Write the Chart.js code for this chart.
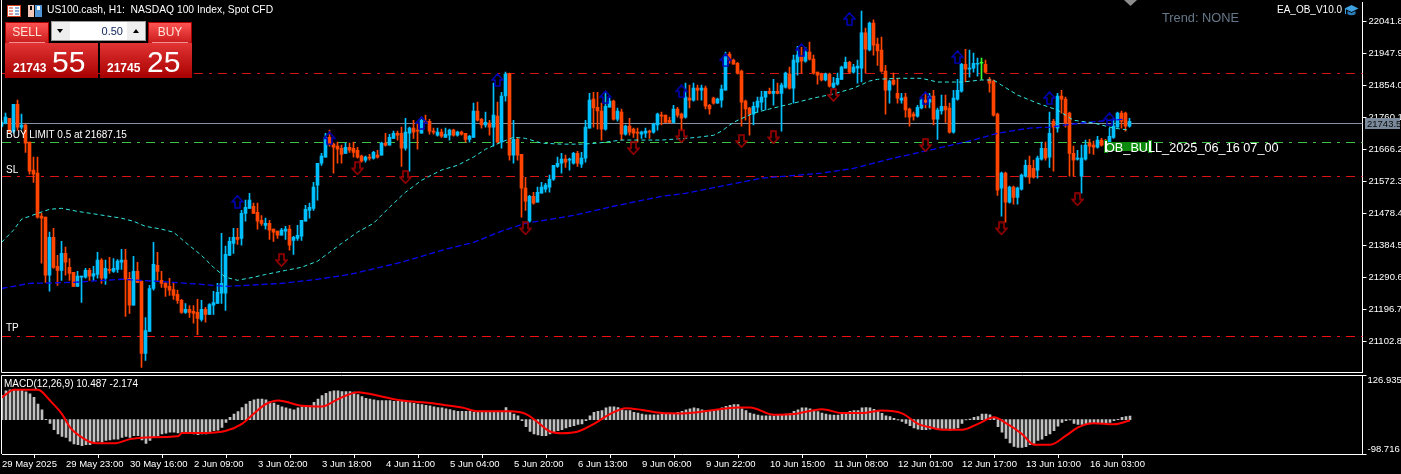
<!DOCTYPE html>
<html>
<head>
<meta charset="utf-8">
<title>US100.cash H1</title>
<script src="https://cdn.jsdelivr.net/npm/chart.js@4/dist/chart.umd.min.js"></script>
<style>
html, body { margin: 0; padding: 0; background: #000; width: 1401px; height: 474px; overflow: hidden; }
canvas { position: absolute; left: 0; }
.t { position: absolute; white-space: pre; color: #fff; font: 10px "Liberation Sans", sans-serif; line-height: 12px; }
.box { position: absolute; box-sizing: border-box; font-family: "Liberation Sans", sans-serif; }
.top { background: linear-gradient(#ff5252, #c81c1c); border: 1px solid #a80000; color: #ffe4d8; font-size: 12px; text-align: center; }
.low { background: linear-gradient(#e23434, #a80000); }
</style>
</head>
<body>
<canvas id="main" width="1401" height="373" style="top:0"></canvas>
<canvas id="macd" width="1401" height="99" style="top:375px"></canvas>

<svg class="box" style="left:7px;top:5px" width="14" height="12"><rect x=".5" y=".5" width="13" height="11" fill="#fff" stroke="#d04020"/><path d="M2 3h4M2 6h4M2 9h4" stroke="#d03020"/><path d="M8 3h4M8 6h4M8 9h4" stroke="#2060c0"/></svg>
<svg class="box" style="left:28px;top:5px" width="14" height="12"><rect x="0" y="0" width="6" height="12" fill="#f4c8b8"/><rect x="7" y="0" width="7" height="12" fill="#4f94d4"/><rect x="9" y="1" width="3" height="4" fill="#fff"/><rect x="2" y="1" width="2" height="4" fill="#000"/></svg>
<div class="t" style="left:47px;top:4px;font-size:10.3px">US100.cash, H1:  NASDAQ 100 Index, Spot CFD</div>

<div class="box top" style="left:5px;top:22px;width:44px;height:22px;line-height:19px">SELL</div>
<div class="box" style="left:9px;top:42px;width:36px;height:1px;background:#f09090"></div>
<div class="box low" style="left:5px;top:43px;width:93px;height:35px"></div>
<div class="t" style="left:13px;top:61px;font-size:12px;font-weight:bold;line-height:14px">21743</div>
<div class="t" style="left:52px;top:46px;font-size:30px;line-height:32px">55</div>
<div class="box top" style="left:148px;top:22px;width:44px;height:22px;line-height:19px">BUY</div>
<div class="box" style="left:152px;top:42px;width:36px;height:1px;background:#f09090"></div>
<div class="box low" style="left:100px;top:43px;width:92px;height:35px"></div>
<div class="t" style="left:107px;top:61px;font-size:12px;font-weight:bold;line-height:14px">21745</div>
<div class="t" style="left:147px;top:46px;font-size:30px;line-height:32px">25</div>
<div class="box" style="left:51px;top:21px;width:95px;height:20px;background:#fff;border:1px solid #999"></div>
<div class="box" style="left:52px;top:22px;width:18px;height:18px;background:#eee"></div>
<div class="box" style="left:127px;top:22px;width:18px;height:18px;background:#eee"></div>
<div class="t" style="left:57px;top:29px;width:0;height:0;border-left:3px solid transparent;border-right:3px solid transparent;border-top:4px solid #000"></div>
<div class="t" style="left:133px;top:29px;width:0;height:0;border-left:3px solid transparent;border-right:3px solid transparent;border-bottom:4px solid #000"></div>
<div class="t" style="left:85px;top:25px;width:38px;text-align:right;color:#10245c;font-size:11px">0.50</div>

<div class="t" style="left:6px;top:129px">BUY LIMIT 0.5 at 21687.15</div>
<div class="t" style="left:6px;top:164px">SL</div>
<div class="t" style="left:6px;top:322px">TP</div>
<div class="t" style="left:1162px;top:11px;font-size:12.8px;line-height:14px;color:#66788a">Trend: NONE</div>
<div class="t" style="left:1277px;top:4px;font-size:10px">EA_OB_V10.0</div>
<svg class="box" style="left:1344px;top:4px" width="15" height="13"><path d="M7.5 1L14.5 4.5 7.5 8 .5 4.5Z" fill="#3fa0e0"/><path d="M3.5 7v3.2Q7.5 12.5 11.500 10.200V7L7.500 9Z" fill="#2a80c0"/><path d="M1.500 5v5" stroke="#3fa0e0"/></svg>
<div class="box" style="left:1124px;top:0;width:13px;height:6px;background:#8c8c8c;clip-path:polygon(0 0,100% 0,50% 100%)"></div>

<div class="box" style="left:1105px;top:142px;width:45px;height:9px;background:#0b8a0b"></div>
<div class="box" style="left:1104px;top:140px;width:4px;height:13px;background:#fff;border:1px solid #0b8a0b"></div>
<div class="box" style="left:1148px;top:140px;width:4px;height:13px;background:#fff;border:1px solid #0b8a0b"></div>
<div class="t" style="left:1105px;top:141px;font-size:12.7px;line-height:14px">OB_BULL_2025_06_16 07_00</div>

<div class="t" style="left:4px;top:378px">MACD(12,26,9) 10.487 -2.174</div>

<script>
const opens = [21734,21743,21757,21719,21798,21731,21737,21687,21605,21596,21470,21467,21297,21408,21323,21311,21361,21320,21305,21264,21291,21291,21311,21294,21299,21341,21288,21314,21308,21314,21335,21341,21288,21209,21308,21279,21068,21132,21258,21326,21282,21273,21264,21255,21241,21223,21188,21197,21191,21188,21167,21197,21182,21209,21214,21244,21244,21355,21390,21408,21405,21478,21493,21499,21481,21458,21443,21449,21432,21426,21414,21426,21432,21399,21405,21411,21455,21487,21493,21561,21625,21643,21701,21681,21675,21669,21654,21672,21669,21663,21646,21634,21643,21640,21649,21649,21684,21678,21698,21713,21713,21669,21713,21728,21722,21713,21748,21748,21719,21707,21716,21701,21707,21722,21707,21716,21713,21695,21701,21778,21754,21737,21743,21731,21763,21687,21822,21886,21649,21695,21651,21552,21455,21528,21511,21537,21549,21555,21578,21616,21625,21637,21634,21625,21654,21622,21640,21728,21813,21789,21778,21725,21789,21807,21754,21775,21710,21734,21725,21716,21710,21713,21719,21716,21737,21766,21766,21751,21745,21784,21769,21760,21816,21810,21845,21839,21845,21795,21816,21801,21810,21839,21945,21927,21918,21895,21807,21787,21769,21789,21804,21819,21836,21830,21836,21830,21848,21886,21845,21921,21939,21924,21951,21930,21892,21886,21869,21886,21848,21857,21871,21904,21921,21892,21904,21904,22007,21957,22036,21974,21957,21895,21839,21869,21830,21810,21819,21784,21769,21763,21787,21810,21804,21822,21754,21778,21792,21787,21716,21813,21836,21915,21901,21904,21915,21918,21915,21871,21866,21769,21552,21596,21511,21555,21525,21549,21587,21619,21610,21605,21637,21669,21643,21748,21728,21822,21813,21772,21654,21637,21587,21637,21684,21678,21672,21693,21690,21669,21701,21731,21772,21772,21734];
const highs = [21751,21772,21757,21798,21810,21769,21740,21687,21643,21643,21478,21467,21423,21434,21355,21396,21379,21346,21305,21308,21294,21317,21317,21323,21364,21346,21341,21349,21346,21343,21373,21373,21305,21352,21335,21282,21173,21267,21393,21364,21308,21276,21288,21273,21253,21226,21214,21208,21208,21226,21223,21203,21214,21250,21273,21420,21382,21408,21434,21434,21487,21517,21537,21508,21508,21472,21464,21458,21432,21426,21434,21440,21443,21411,21443,21458,21502,21508,21569,21625,21654,21713,21722,21684,21687,21678,21684,21684,21687,21672,21649,21646,21651,21660,21663,21687,21713,21710,21719,21719,21731,21757,21731,21751,21745,21760,21766,21754,21728,21728,21725,21728,21725,21725,21719,21719,21713,21707,21801,21804,21757,21775,21751,21860,21804,21833,21892,21889,21751,21701,21651,21584,21531,21540,21555,21569,21566,21590,21619,21643,21654,21649,21640,21657,21660,21657,21751,21830,21833,21833,21801,21833,21816,21810,21787,21784,21737,21757,21728,21728,21719,21728,21722,21743,21772,21775,21766,21760,21795,21789,21772,21860,21854,21860,21854,21854,21851,21798,21819,21816,21854,21951,21951,21930,21921,21898,21810,21789,21804,21819,21836,21836,21845,21871,21860,21860,21892,21907,21942,21968,21965,21965,21980,21942,21892,21889,21889,21889,21877,21889,21910,21936,21924,21915,21927,22071,22021,22039,22045,21992,21995,21912,21869,21889,21874,21830,21830,21787,21775,21795,21813,21830,21830,21839,21787,21825,21825,21801,21839,21871,21918,21959,21957,21948,21933,21933,21927,21877,21869,21772,21599,21599,21558,21558,21555,21593,21634,21646,21634,21646,21687,21687,21775,21754,21830,21839,21819,21775,21675,21663,21678,21693,21695,21690,21704,21698,21695,21728,21757,21775,21778,21775,21757];
const lows = [21731,21740,21716,21713,21722,21725,21657,21593,21569,21464,21332,21276,21250,21317,21267,21282,21297,21282,21264,21264,21217,21288,21282,21282,21288,21273,21270,21302,21305,21305,21314,21176,21185,21209,21276,21027,21047,21132,21253,21282,21261,21235,21238,21226,21214,21185,21185,21173,21156,21123,21162,21159,21182,21182,21214,21214,21194,21355,21361,21387,21385,21455,21493,21478,21432,21443,21432,21402,21396,21405,21414,21402,21370,21358,21399,21399,21455,21464,21487,21517,21619,21643,21675,21596,21625,21625,21654,21657,21643,21640,21628,21628,21634,21637,21640,21649,21675,21678,21698,21693,21616,21663,21602,21698,21666,21713,21743,21710,21710,21704,21701,21701,21693,21704,21704,21707,21687,21687,21701,21748,21728,21731,21707,21675,21684,21669,21807,21634,21625,21634,21467,21487,21452,21505,21511,21537,21540,21540,21575,21613,21596,21613,21605,21622,21616,21613,21628,21728,21731,21725,21693,21722,21789,21751,21748,21693,21707,21707,21701,21687,21698,21701,21698,21713,21722,21737,21745,21743,21743,21760,21722,21757,21787,21807,21810,21810,21784,21769,21798,21801,21789,21839,21918,21915,21886,21734,21751,21707,21737,21775,21781,21781,21828,21795,21828,21719,21845,21842,21801,21883,21889,21921,21927,21886,21857,21866,21866,21848,21845,21854,21871,21904,21889,21889,21860,21863,21889,21954,21942,21912,21892,21769,21801,21854,21801,21801,21760,21734,21751,21760,21784,21787,21787,21737,21695,21769,21745,21713,21713,21810,21833,21863,21877,21892,21880,21871,21889,21833,21763,21531,21470,21452,21508,21505,21505,21546,21584,21566,21581,21581,21634,21634,21613,21602,21716,21772,21731,21587,21587,21634,21537,21634,21654,21651,21669,21675,21663,21666,21698,21731,21728,21719,21731];
const closes = [21745,21760,21716,21798,21731,21737,21684,21602,21593,21467,21464,21297,21408,21320,21311,21361,21335,21302,21264,21294,21294,21311,21294,21302,21341,21288,21317,21311,21317,21338,21341,21285,21209,21308,21276,21068,21135,21258,21329,21308,21273,21261,21253,21238,21223,21188,21197,21188,21185,21170,21197,21182,21211,21217,21247,21273,21358,21396,21408,21402,21478,21496,21517,21478,21455,21449,21449,21429,21423,21414,21429,21432,21385,21408,21414,21458,21490,21496,21555,21625,21646,21701,21681,21672,21666,21651,21672,21663,21657,21643,21631,21643,21640,21657,21643,21684,21678,21701,21713,21707,21669,21716,21728,21716,21719,21751,21745,21719,21716,21716,21704,21710,21722,21707,21716,21710,21695,21704,21778,21751,21737,21745,21731,21766,21687,21822,21886,21649,21695,21649,21552,21514,21528,21508,21540,21555,21561,21578,21619,21625,21637,21628,21637,21654,21625,21640,21731,21810,21787,21778,21725,21792,21807,21754,21778,21710,21734,21716,21713,21713,21716,21719,21716,21740,21769,21763,21745,21745,21784,21766,21757,21819,21810,21845,21839,21845,21792,21784,21801,21813,21842,21942,21927,21915,21889,21804,21784,21769,21792,21807,21819,21836,21830,21836,21830,21854,21889,21845,21927,21942,21924,21951,21930,21889,21883,21869,21886,21851,21860,21874,21907,21921,21892,21907,21910,22007,21959,22036,21971,21954,21895,21839,21866,21857,21816,21816,21781,21760,21763,21789,21810,21804,21822,21754,21781,21792,21781,21716,21816,21839,21915,21901,21904,21918,21918,21918,21892,21860,21766,21546,21596,21511,21555,21525,21552,21590,21619,21584,21584,21640,21669,21640,21713,21731,21822,21813,21743,21654,21634,21640,21640,21678,21675,21672,21693,21678,21678,21704,21734,21772,21748,21734,21748];

const cyanBars = [0,3,5,9,12,15,19,24,30,33,36,40,43,46,50,53,56,59,63,66,71,75,79,82,85,89,93,97,101,105,110,114,118,121,125,128,131,135,140,145,149,155,160,165,171,174,178,180,183,188,192,198,203,208,213,217,219,224,230,234,240,245,248,250,254,259,264,268,273,278,282];
const cyanVals = [21393,21429,21461,21478,21490,21493,21484,21475,21464,21455,21440,21432,21423,21393,21355,21320,21291,21282,21291,21299,21311,21320,21338,21364,21390,21423,21449,21496,21540,21575,21605,21619,21643,21666,21687,21701,21698,21684,21681,21681,21684,21693,21693,21693,21698,21701,21707,21719,21745,21772,21784,21801,21816,21828,21845,21866,21871,21874,21874,21863,21863,21869,21869,21854,21825,21801,21781,21751,21743,21728,21722];
const blueBars = [0,7,18,30,43,50,56,61,70,79,87,100,111,118,125,131,143,153,165,171,180,190,199,205,213,223,233,243,249,257,262,270,277,281];
const blueVals = [21258,21273,21276,21285,21276,21270,21264,21267,21273,21285,21299,21335,21373,21393,21426,21449,21472,21499,21528,21537,21558,21581,21590,21596,21610,21640,21666,21693,21713,21728,21731,21743,21751,21754];

const upBars = [59,82,105,124,151,170,181,200,212,231,239,262,277];
const upVals = [21512,21698,21743,21869,21819,21836,21927,21957,22048,21816,21936,21816,21754];
const downBars = [70,89,101,131,158,170,185,193,208,231,250,269];
const downVals = [21341,21610,21584,21434,21669,21704,21690,21701,21825,21678,21434,21519];

const levelPrices = [21889, 21743.5, 21687.15, 21587, 21120];
const levelColors = ["#d01414", "#8490a4", "#40c040", "#d81414", "#f01010"];

const priceTicks = [22041.8,21947.9,21854.0,21760.1,21666.2,21572.3,21478.4,21384.5,21290.6,21196.7,21102.8];
const bidLabel = "21743.5";

const macdHist = [69,83,86,86,86,86,80,74,64,45,28,1,-11,-29,-41,-48,-51,-62,-70,-72,-75,-72,-72,-68,-62,-65,-60,-58,-56,-56,-51,-48,-51,-46,-46,-58,-68,-60,-51,-46,-41,-39,-36,-36,-38,-39,-38,-38,-41,-43,-41,-41,-36,-32,-30,-22,-8,7,16,23,35,45,53,57,59,59,57,52,48,42,37,34,31,28,34,37,40,40,50,59,69,76,81,83,83,81,81,81,79,72,66,61,59,57,55,55,55,55,53,53,53,51,49,47,45,43,41,40,37,35,34,31,29,26,24,24,24,24,21,21,21,21,21,24,21,21,35,24,16,11,-3,-20,-34,-41,-44,-46,-46,-41,-36,-32,-29,-24,-20,-17,-14,-12,-3,11,21,24,26,34,37,37,35,28,26,26,21,19,16,14,14,14,14,16,16,16,18,21,24,28,31,34,32,28,26,26,26,28,34,38,41,43,43,31,26,19,16,13,11,11,11,11,13,15,16,18,24,28,34,34,31,26,23,19,16,14,13,13,16,21,24,26,26,34,35,34,30,26,18,11,9,4,-1,-5,-11,-17,-24,-27,-29,-29,-27,-24,-27,-25,-25,-30,-27,-24,-11,-1,2,7,9,16,16,14,7,-20,-36,-54,-67,-77,-80,-80,-78,-72,-68,-60,-56,-46,-41,-32,-19,-8,-3,-1,-11,-14,-14,-12,-11,-10,-10,-10,-10,-8,-3,1,7,9,10.487];
const signalBars = [0,3,9,12,15,17,20,23,28,32,36,44,45,51,56,60,64,66,69,75,80,84,89,91,100,107,112,115,119,127,131,134,137,140,144,148,152,156,160,165,170,177,184,187,193,198,205,210,215,220,225,229,232,235,240,244,248,251,255,258,262,266,269,273,278,282];
const signalVals = [64,86,86,55,16,-22,-51,-67,-68,-56,-51,-48,-38,-38,-32,-12,28,45,55,40,38,59,79,76,55,48,40,35,24,24,16,-8,-34,-39,-34,-12,16,33,28,19,18,26,35,35,14,16,30,19,19,26,18,-12,-22,-29,-29,-12,7,-10,-41,-72,-72,-46,-22,-10,-13,-2.174];
const macdTicks = [126.935, -98.716];

const timeBars = [0,16,32,48,64,80,96,112,128,144,160,176,192,208,224,240,256,272];
const timeLabels = ["29 May 2025","29 May 23:00","30 May 16:00","2 Jun 09:00","3 Jun 02:00","3 Jun 18:00","4 Jun 11:00","5 Jun 04:00","5 Jun 20:00","6 Jun 13:00","9 Jun 06:00","9 Jun 22:00","10 Jun 15:00","11 Jun 08:00","12 Jun 01:00","12 Jun 17:00","13 Jun 10:00","16 Jun 03:00"];

const UP = "#00bfff", DOWN = "#ff4500", DOJI = "#32ff32";
const AXIS_FONT = { family: "Liberation Sans", size: 9.5 };

const barColors = opens.map((o, i) => closes[i] > o ? UP : closes[i] < o ? DOWN : DOJI);
const pairs = (xs, ys) => xs.map((x, i) => ({ x: x, y: ys[i] }));

function arrowImage(color, up) {
    const c = document.createElement("canvas");
    c.width = 13; c.height = 14;
    const g = c.getContext("2d");
    g.strokeStyle = color;
    g.lineWidth = 1.6;
    g.translate(0, up ? 0 : 14);
    g.scale(1, up ? 1 : -1);
    g.beginPath();
    g.moveTo(6.5, 1); g.lineTo(12, 7); g.lineTo(9, 7); g.lineTo(9, 13);
    g.lineTo(4, 13); g.lineTo(4, 7); g.lineTo(1, 7);
    g.closePath();
    g.stroke();
    return c;
}

// horizontal order levels, behind the candles, plus the frame
const levels = {
    id: "levels",
    beforeDatasetsDraw(chart) {
        const ctx = chart.ctx, a = chart.chartArea, y = chart.scales.y;
        levelPrices.forEach((p, i) => {
            const py = Math.round(y.getPixelForValue(p)) + 0.5;
            ctx.save();
            ctx.strokeStyle = levelColors[i];
            ctx.lineWidth = 1;
            ctx.setLineDash(i === 1 ? [] : [9, 6, 3, 6]);
            ctx.beginPath();
            ctx.moveTo(2, py);
            ctx.lineTo(a.right, py);
            ctx.stroke();
            ctx.restore();
        });
    },
    afterDraw(chart) {
        const ctx = chart.ctx, a = chart.chartArea, y = chart.scales.y;
        ctx.save();
        ctx.strokeStyle = "#fff";
        ctx.beginPath();
        ctx.moveTo(1.5, 0); ctx.lineTo(1.5, a.bottom); ctx.lineTo(a.right, a.bottom);
        ctx.stroke();
        const py = Math.round(y.getPixelForValue(levelPrices[1]));
        ctx.fillStyle = "#7b8a9a";
        ctx.fillRect(1365, py - 5, 35, 11);
        ctx.fillStyle = "#0a0a0a";
        ctx.font = "9.5px 'Liberation Sans'";
        ctx.textBaseline = "middle";
        ctx.fillText(bidLabel, 1367, py + 1);
        ctx.restore();
    }
};

const macdFrame = {
    id: "macdFrame",
    afterDraw(chart) {
        const ctx = chart.ctx, a = chart.chartArea, y = chart.scales.y;
        ctx.save();
        ctx.strokeStyle = "#fff";
        ctx.beginPath();
        ctx.moveTo(a.right, a.top); ctx.lineTo(1.5, a.top); ctx.lineTo(1.5, a.bottom);
        ctx.stroke();
        ctx.fillStyle = "#fff";
        ctx.font = "9.5px 'Liberation Sans'";
        ctx.textBaseline = "middle";
        ctx.fillText(macdTicks[0].toFixed(3), a.right + 5, y.getPixelForValue(macdTicks[0]) + 5);
        ctx.fillText(macdTicks[1].toFixed(3), a.right + 5, y.getPixelForValue(macdTicks[1]) - 5);
        ctx.restore();
    }
};

function noScalePadding(scale) {
    scale.paddingTop = 0;
    scale.paddingBottom = 0;
    scale.paddingLeft = 0;
    scale.paddingRight = 0;
}

new Chart(document.getElementById("main"), {
    type: "bar",
    data: {
        datasets: [
            {
                type: "line", order: 0, showLine: false, pointRadius: 7,
                pointStyle: arrowImage("#0000b4", true),
                data: pairs(upBars, upVals)
            },
            {
                type: "line", order: 0, showLine: false, pointRadius: 7,
                pointStyle: arrowImage("#a00000", false),
                data: pairs(downBars, downVals)
            },
            {
                type: "line", order: 1, borderColor: "#30e8e0", borderWidth: 1,
                borderDash: [4, 3], pointRadius: 0,
                data: pairs(cyanBars, cyanVals)
            },
            {
                type: "line", order: 1, borderColor: "#0808f0", borderWidth: 1.3,
                borderDash: [6, 3], pointRadius: 0,
                data: pairs(blueBars, blueVals)
            },
            {
                order: 2, barThickness: 3, minBarLength: 1, grouped: false,
                backgroundColor: barColors,
                data: opens.map((o, i) => ({ x: i, y: [o, closes[i]] }))
            },
            {
                order: 3, barThickness: 1, grouped: false,
                backgroundColor: barColors,
                data: lows.map((l, i) => ({ x: i, y: [l, highs[i]] }))
            }
        ]
    },
    options: {
        responsive: false,
        animation: false,
        events: [],
        devicePixelRatio: 1,
        layout: { autoPadding: false, padding: { left: 1.5, top: 2, bottom: 0.5, right: 0 } },
        plugins: { legend: { display: false }, tooltip: { enabled: false } },
        scales: {
            x: { type: "linear", min: 0, max: 340.25, offset: false, display: false, grid: { display: false } },
            y: {
                position: "right",
                min: 21011.8,
                max: 22097.55,
                afterBuildTicks: (s) => { s.ticks = priceTicks.map((v) => ({ value: v })); },
                afterFit: (s) => { s.width = 38.5; noScalePadding(s); },
                grid: { drawOnChartArea: false, color: "#fff", tickLength: 4, tickColor: "#fff" },
                border: { color: "#fff" },
                ticks: {
                    color: "#fff", font: AXIS_FONT, padding: 2, autoSkip: false,
                    callback: (v) => v.toFixed(1)
                }
            }
        }
    },
    plugins: [levels]
});

new Chart(document.getElementById("macd"), {
    type: "bar",
    data: {
        datasets: [
            {
                type: "line", order: 0, borderColor: "#ff0000", borderWidth: 2,
                cubicInterpolationMode: "monotone", pointRadius: 0,
                data: pairs(signalBars, signalVals)
            },
            {
                order: 1, barThickness: 2, backgroundColor: "#c0c0c0",
                data: macdHist.map((v, i) => ({ x: i, y: v }))
            }
        ]
    },
    options: {
        responsive: false,
        animation: false,
        events: [],
        devicePixelRatio: 1,
        layout: { autoPadding: false, padding: { left: 2, top: 0.5, bottom: 0, right: 0 } },
        plugins: { legend: { display: false }, tooltip: { enabled: false } },
        scales: {
            x: {
                type: "linear", min: 0, max: 340.125, offset: false,
                afterBuildTicks: (s) => { s.ticks = timeBars.map((v) => ({ value: v })); },
                afterFit: (s) => { s.height = 20; noScalePadding(s); },
                grid: { drawOnChartArea: false, color: "#fff", tickLength: 4, tickColor: "#fff" },
                border: { color: "#fff" },
                ticks: {
                    color: "#fff", font: AXIS_FONT, align: "start", maxRotation: 0, autoSkip: false, padding: 1,
                    callback: (v, i) => timeLabels[i]
                }
            },
            y: {
                position: "right",
                min: macdTicks[1],
                max: macdTicks[0],
                afterBuildTicks: (s) => { s.ticks = macdTicks.map((v) => ({ value: v })); },
                afterFit: (s) => { s.width = 38.5; noScalePadding(s); },
                grid: { drawOnChartArea: false, color: "#fff", tickLength: 4, tickColor: "#fff" },
                border: { color: "#fff" },
                ticks: { color: "#fff", font: AXIS_FONT, autoSkip: false, callback: () => "" }
            }
        }
    },
    plugins: [macdFrame]
});
</script>
</body>
</html>
